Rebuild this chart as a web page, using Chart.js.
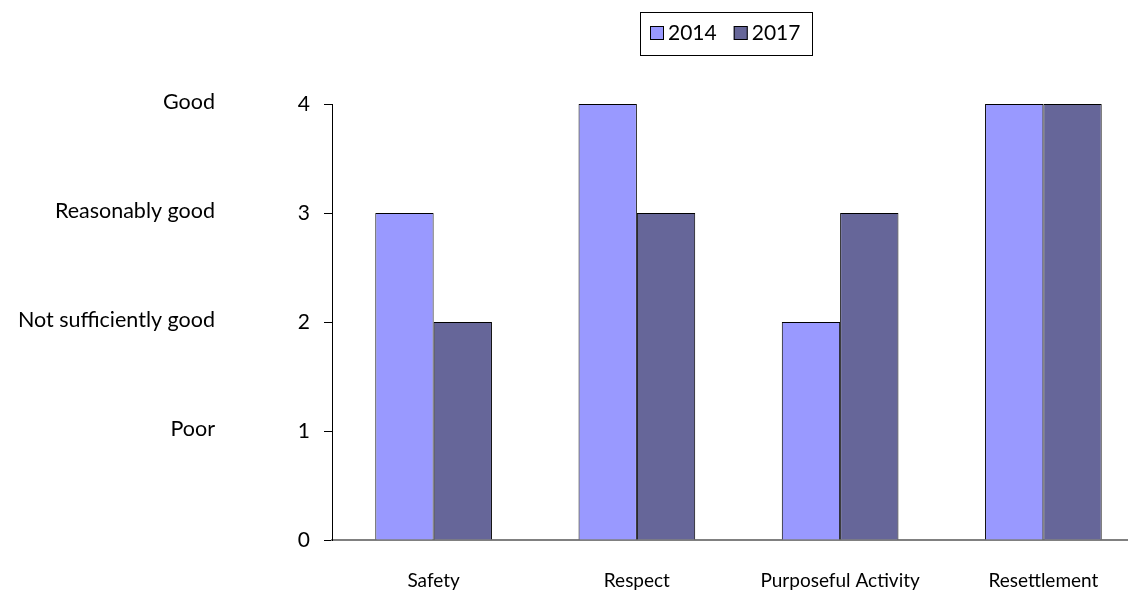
<!DOCTYPE html>
<html>
<head>
<meta charset="utf-8">
<script src="https://cdn.jsdelivr.net/npm/chart.js@4"></script>
<style>
  html, body { margin: 0; padding: 0; background: #fff; overflow: hidden; }
  #wrap { width: 1145px; height: 592px; }
</style>
</head>
<body>
<div id="wrap"><canvas id="myChart"></canvas></div>
<script>
const categories = ['Safety', 'Respect', 'Purposeful Activity', 'Resettlement'];
const series2014 = [3, 4, 2, 4];
const series2017 = [2, 3, 3, 4];
const yTicks = [0, 1, 2, 3, 4];
const ratingLabels = ['', 'Poor', 'Not sufficiently good', 'Reasonably good', 'Good'];

const FONT = 'Lato, "Open Sans", sans-serif';

// rating names on the far left + boxed legend
const extras = {
  id: 'extras',
  afterDraw(chart) {
    const ctx = chart.ctx;
    const y = chart.scales.y;
    ctx.save();
    ctx.fillStyle = '#000';
    ctx.font = '21.5px ' + FONT;
    ctx.textAlign = 'right';
    ctx.textBaseline = 'middle';
    yTicks.forEach(v => {
      if (ratingLabels[v]) ctx.fillText(ratingLabels[v], 215, y.getPixelForValue(v) - 2);
    });

    // legend box
    ctx.strokeStyle = '#000';
    ctx.lineWidth = 1;
    ctx.strokeRect(640.5, 12.5, 172, 43);
    const items = chart.data.datasets;
    let x = 650;
    ctx.textAlign = 'left';
    ctx.font = '21px ' + FONT;
    items.forEach(ds => {
      ctx.fillStyle = ds.backgroundColor;
      ctx.fillRect(x, 26, 14, 14);
      ctx.strokeRect(x + 0.5, 26.5, 13, 13);
      ctx.fillStyle = '#000';
      ctx.fillText(ds.label, x + 18, 33);
      x += ctx.measureText(ds.label).width + 35;
    });
    ctx.restore();
  }
};

new Chart(document.getElementById('myChart'), {
  type: 'bar',
  data: {
    labels: categories,
    datasets: [
      { label: '2014', data: series2014, backgroundColor: '#9999FF', borderColor: '#000', borderWidth: 1 },
      { label: '2017', data: series2017, backgroundColor: '#666699', borderColor: '#000', borderWidth: 1 }
    ]
  },
  options: {
    responsive: true,
    maintainAspectRatio: false,
    animation: false,
    layout: { padding: { top: 104, left: 0, right: 0, bottom: 0 } },
    datasets: { bar: { categoryPercentage: 0.574, barPercentage: 1 } },
    scales: {
      x: {
        grid: { display: false },
        border: { color: '#808080', width: 2 },
        ticks: { color: '#000', font: { family: FONT, size: 19 }, padding: 21 },
        afterFit(s) { s.height = 52; }
      },
      y: {
        min: 0, max: 4,
        afterBuildTicks(s) { s.ticks = yTicks.map(v => ({ value: v })); },
        grid: { drawOnChartArea: false, color: '#000', tickLength: 8 },
        border: { color: '#000', width: 1 },
        ticks: { color: '#000', font: { family: FONT, size: 21 }, padding: 14 },
        afterFit(s) { s.width = 332; }
      }
    },
    plugins: {
      legend: { display: false },
      tooltip: { enabled: false }
    }
  },
  plugins: [extras]
});
</script>
</body>
</html>
